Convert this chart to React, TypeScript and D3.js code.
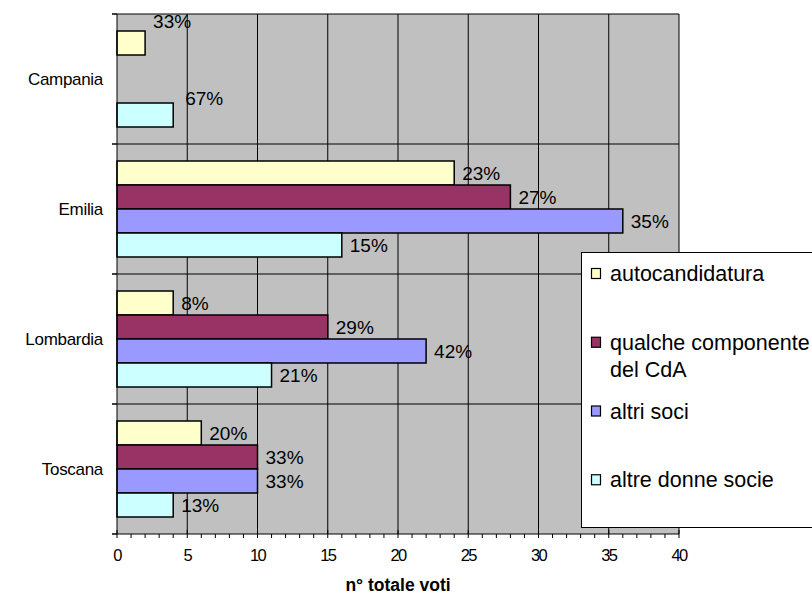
import React from "react";
import * as d3 from "d3";

const regions = ["Campania", "Emilia", "Lombardia", "Toscana"];
const seriesNames = ["autocandidatura", "qualche componente del CdA", "altri soci", "altre donne socie"];
const legendLines = [["autocandidatura"], ["qualche componente", "del CdA"], ["altri soci"], ["altre donne socie"]];
const autocandidatura = [2, 24, 4, 6];
const qualcheComponente = [0, 28, 15, 10];
const altriSoci = [0, 36, 22, 10];
const altreDonne = [4, 16, 11, 4];
const percentLabels = [
  ["33%", "", "", "67%"],
  ["23%", "27%", "35%", "15%"],
  ["8%", "29%", "42%", "21%"],
  ["20%", "33%", "33%", "13%"],
];
const xTicks = [0, 5, 10, 15, 20, 25, 30, 35, 40];
const colors = ["#FFFFCC", "#993366", "#9999FF", "#CCFFFF"];

// manual label nudges (as in original chart) for Campania
const nudges: Record<string, [number, number]> = {
  "0-0": [0, -21.5],
  "0-3": [4, -17],
};

const W = 812, H = 595;
const plot = { left: 117, right: 679, top: 14, bottom: 534 };
const font = "'Liberation Sans', Arial, sans-serif";

export default function App() {
  const values = [autocandidatura, qualcheComponente, altriSoci, altreDonne];
  const x = d3.scaleLinear().domain([0, 40]).range([plot.left, plot.right]);
  const y = d3.scaleBand().domain(regions).range([plot.top, plot.bottom]).padding(0);
  const bw = y.bandwidth();
  const sub = d3.scaleBand().domain(seriesNames).range([17, bw - 17]).padding(0);
  const minor = d3.range(0, 41, 1);
  const bounds = d3.range(0, regions.length + 1).map((i) => plot.top + i * bw);

  const legend = { x: 581.5, y: 252.5, w: 240, h: 275 };
  const slot = legend.h / 4;

  return (
    <svg width={W} height={H} style={{ position: "absolute", left: 0, top: 0, background: "#fff" }} fontFamily={font}>
      <rect x={plot.left} y={plot.top} width={plot.right - plot.left} height={plot.bottom - plot.top} fill="#C0C0C0" />
      {xTicks.slice(1).map((t) => (
        <line key={"g" + t} x1={x(t)} x2={x(t)} y1={plot.top} y2={plot.bottom} stroke="#000" strokeWidth={1} />
      ))}
      {bounds.slice(0, -1).map((b, i) => (
        <line key={"h" + i} x1={plot.left - 5} x2={plot.right} y1={b} y2={b} stroke="#000" strokeWidth={1} />
      ))}
      {regions.map((r, ri) =>
        seriesNames.map((s, si) => {
          const v = values[si][ri];
          if (!v) return null;
          return (
            <rect key={r + s} x={x(0)} y={(y(r) as number) + (sub(s) as number)} width={x(v) - x(0)} height={sub.bandwidth()}
              fill={colors[si]} stroke="#000" strokeWidth={1.5} />
          );
        })
      )}
      {regions.map((r, ri) =>
        seriesNames.map((s, si) => {
          const v = values[si][ri];
          const lab = percentLabels[ri][si];
          if (!v || !lab) return null;
          const n = nudges[ri + "-" + si] || [0, 0];
          return (
            <text key={"l" + r + s} x={x(v) + 8 + n[0]} y={(y(r) as number) + (sub(s) as number) + sub.bandwidth() / 2 + n[1]}
              dy="0.36em" fontSize={19} fill="#000">{lab}</text>
          );
        })
      )}
      <line x1={plot.left} x2={plot.left} y1={plot.top} y2={plot.bottom} stroke="#000" strokeWidth={1} />
      {bounds.map((b, i) => (
        <line key={"lt" + i} x1={plot.left - 5} x2={plot.left} y1={b} y2={b} stroke="#000" />
      ))}
      {regions.map((r) => (
        <text key={"c" + r} x={103} y={(y(r) as number) + bw / 2} dy="0.36em" textAnchor="end" fontSize={17} letterSpacing={-0.3} fill="#000">{r}</text>
      ))}
      <line x1={plot.left - 5} x2={plot.right} y1={plot.bottom} y2={plot.bottom} stroke="#000" strokeWidth={1} />
      {minor.map((t) => (
        <line key={"m" + t} x1={x(t)} x2={x(t)} y1={t % 5 === 0 ? plot.bottom - 4 : plot.bottom} y2={plot.bottom + 4} stroke="#000" />
      ))}
      {xTicks.map((t) => (
        <text key={"t" + t} x={x(t)} y={555} dy="0.36em" textAnchor="middle" fontSize={16.5} letterSpacing={-1.6} fill="#000">{t}</text>
      ))}
      <text x={(plot.left + plot.right) / 2} y={584.5} dy="0.36em" textAnchor="middle" fontSize={17.5} fontWeight="bold" fill="#000">n° totale voti</text>
      <rect x={legend.x} y={legend.y} width={legend.w} height={legend.h} fill="#fff" stroke="#000" strokeWidth={1} />
      {seriesNames.map((s, i) => {
        const ty = legend.y + i * slot + 21;
        return (
          <g key={"lg" + s}>
            <rect x={591.5} y={ty - 5} width={9} height={10} fill={colors[i]} stroke="#000" strokeWidth={1.2} />
            <text x={610} y={ty} fontSize={21.5} fill="#000">
              {legendLines[i].map((ln, j) => (
                <tspan key={j} x={610} y={ty + j * 26.6} dy="0.36em">{ln}</tspan>
              ))}
            </text>
          </g>
        );
      })}
    </svg>
  );
}
